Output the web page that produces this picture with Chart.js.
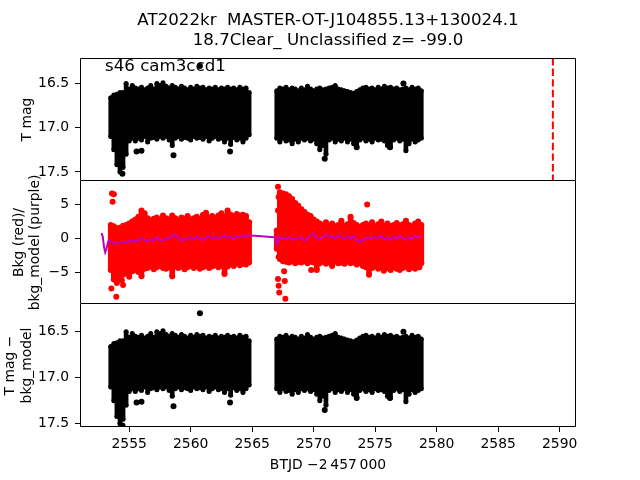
<!DOCTYPE html>
<html><head><meta charset="utf-8">
<script src="https://cdn.jsdelivr.net/npm/chart.js@4/dist/chart.umd.min.js"></script>
<style>
html,body{margin:0;padding:0;background:#fff;}
#wrap{position:relative;width:640px;height:480px;overflow:hidden;background:#fff;}
canvas{position:absolute;left:0;}
</style></head><body>
<div id="wrap">
<canvas id="c1" width="640" height="181" style="top:0px"></canvas>
<canvas id="c2" width="640" height="163" style="top:161px"></canvas>
<canvas id="c3" width="640" height="176" style="top:304px"></canvas>
</div>
<script>
// ---------- text ----------
const titleLines = ['AT2022kr  MASTER-OT-J104855.13+130024.1', '18.7Clear_ Unclassified z= -99.0'];
const panelLabel = 's46 cam3ccd1';
const yTitleTop = 'T mag';
const yTitleMid = ['Bkg (red)/', 'bkg_model (purple)'];
const yTitleBot = ['T mag \u2212', 'bkg_model'];
const xTitle = 'BTJD \u22122\u2009457\u2009000';

// ---------- axis limits / ticks ----------
const xMin = 2551.0, xMax = 2591.33, xStep = 5;
const magTopMin = 16.21, magTopMax = 17.603;
const bkgMin = -9.58, bkgMax = 8.44, bkgStep = 5;
const magBotMin = 16.20, magBotMax = 17.535;
const magStep = 0.5;
const markerT = 2589.45;   // red dashed line

// ---------- time grids (BTJD - 2457000) ----------
const tA = [2553.5,2553.75,2554,2554.25,2554.5,2554.75,2555,2555.25,2555.5,2555.75,2556,2556.25,2556.5,2556.75,2557,2557.25,2557.5,2557.75,2558,2558.25,2558.5,2558.75,2559,2559.25,2559.5,2559.75,2560,2560.25,2560.5,2560.75,2561,2561.25,2561.5,2561.75,2562,2562.25,2562.5,2562.75,2563,2563.25,2563.5,2563.75,2564,2564.25,2564.5,2564.75];
const tB = [2567,2567.25,2567.5,2567.75,2568,2568.25,2568.5,2568.75,2569,2569.25,2569.5,2569.75,2570,2570.25,2570.5,2570.75,2571,2571.25,2571.5,2571.75,2572,2572.25,2572.5,2572.75,2573,2573.25,2573.5,2573.75,2574,2574.25,2574.5,2574.75,2575,2575.25,2575.5,2575.75,2576,2576.25,2576.5,2576.75,2577,2577.25,2577.5,2577.75,2578,2578.25,2578.5,2578.75];

// ---------- T mag envelope (bright edge / faint edge) ----------
const magHiA = [16.66,16.63,16.62,16.60,16.60,16.50,16.56,16.52,16.55,16.56,16.54,16.57,16.55,16.52,16.56,16.50,16.52,16.49,16.53,16.55,16.52,16.54,16.56,16.53,16.55,16.57,16.54,16.56,16.53,16.55,16.54,16.57,16.55,16.56,16.54,16.57,16.55,16.56,16.54,16.56,16.55,16.57,16.54,16.56,16.55,16.60];
const magLoA = [17.10,17.25,17.42,17.50,17.45,17.30,17.15,17.12,17.15,17.12,17.14,17.10,17.16,17.12,17.11,17.13,17.10,17.12,17.10,17.14,17.20,17.12,17.10,17.13,17.11,17.12,17.14,17.10,17.12,17.11,17.13,17.10,17.15,17.12,17.10,17.13,17.12,17.16,17.12,17.19,17.11,17.14,17.12,17.16,17.12,17.08];
const magHiB = [16.58,16.55,16.56,16.54,16.57,16.55,16.56,16.58,16.55,16.57,16.53,16.56,16.58,16.56,16.55,16.57,16.56,16.55,16.54,16.52,16.56,16.57,16.58,16.59,16.60,16.61,16.59,16.57,16.55,16.54,16.56,16.55,16.57,16.54,16.56,16.53,16.55,16.54,16.56,16.55,16.57,16.56,16.55,16.57,16.54,16.56,16.55,16.58];
const magLoB = [17.12,17.16,17.12,17.15,17.14,17.18,17.13,17.16,17.12,17.14,17.12,17.15,17.13,17.18,17.25,17.20,17.30,17.14,17.12,17.16,17.13,17.15,17.12,17.16,17.13,17.18,17.21,17.14,17.12,17.15,17.13,17.16,17.12,17.14,17.13,17.15,17.20,17.22,17.14,17.12,17.15,17.13,17.26,17.18,17.13,17.16,17.14,17.12];
// isolated T mag points
const tMagOut = [2560.75,2577.3,2555.6,2558.6,2570.9,2563.2,2556.0,2573.5,2576.2,2554.45];
const magOut  = [16.30,16.50,17.27,17.31,17.35,17.27,17.26,17.22,17.22,17.52];

// ---------- background envelope (red) ----------
const bkgHiA = [2.0,1.8,1.5,1.6,1.9,2.0,2.2,2.5,2.8,3.2,4.1,3.7,3.0,2.7,2.9,3.1,2.6,3.4,3.0,2.8,3.4,3.0,2.7,3.1,2.9,3.3,2.8,3.0,3.2,2.9,3.5,3.8,3.1,3.3,3.0,3.4,3.7,3.2,4.1,3.5,3.3,3.6,3.4,3.5,3.3,2.4];
const bkgLoA = [-4.6,-6.0,-6.5,-5.8,-5.3,-5.0,-5.6,-4.8,-4.6,-4.9,-5.5,-4.4,-4.3,-4.1,-4.5,-4.2,-4.0,-4.3,-4.4,-4.2,-5.5,-4.1,-4.3,-4.0,-4.5,-4.2,-4.0,-4.3,-4.1,-4.4,-4.2,-4.0,-4.3,-4.1,-3.9,-4.2,-4.0,-5.2,-4.1,-3.8,-4.0,-3.6,-3.9,-3.7,-3.8,-3.5];
const bkgHiB = [1.2,6.8,6.6,6.5,6.2,5.8,5.2,4.8,4.3,3.9,3.5,3.3,2.8,2.5,2.2,2.0,2.4,1.9,2.2,1.8,2.0,2.6,1.9,2.1,3.2,2.3,2.0,1.7,2.0,2.2,1.9,2.4,1.8,2.1,2.5,1.9,2.2,1.8,2.0,2.3,1.9,2.1,2.6,2.0,1.8,2.2,2.5,2.0];
const bkgLoB = [-1.5,-3.0,-3.3,-3.4,-3.5,-3.3,-3.6,-3.4,-3.5,-3.3,-3.6,-3.4,-3.5,-4.6,-3.6,-3.4,-3.7,-3.5,-4.0,-3.4,-3.6,-3.5,-3.7,-3.4,-3.6,-3.5,-3.8,-3.6,-4.0,-4.2,-5.3,-4.3,-4.1,-4.4,-4.2,-4.5,-4.3,-4.6,-4.2,-4.4,-4.6,-4.3,-4.1,-4.5,-4.2,-4.4,-4.1,-3.6];
// isolated background points
const tBkgOut = [2553.6,2553.75,2553.65,2553.55,2553.95,2554.5,2554.4,2567.1,2567.15,2567.1,2567.15,2567.1,2567.15,2567.2,2567.7,2567.65,2567.6,2574.35,2569.8,2575.7,2578.6];
const bkgOut  = [6.6,6.5,5.4,-7.3,-8.5,-6.8,-6.1,7.6,6.1,4.1,-2.7,-5.9,-6.9,-7.9,-8.8,-6.2,-4.8,5.0,-4.6,-4.7,-4.2];

// ---------- background model (purple) ----------
const bkgModelT = [2552.75,2552.85,2552.95,2553.05,2553.15,2553.3,2553.5,2553.75,2554,2554.25,2554.5,2554.75,2555,2555.25,2555.5,2555.75,2556,2556.25,2556.5,2556.75,2557,2557.25,2557.5,2557.75,2558,2558.25,2558.5,2558.75,2559,2559.25,2559.5,2559.75,2560,2560.25,2560.5,2560.75,2561,2561.25,2561.5,2561.75,2562,2562.25,2562.5,2562.75,2563,2563.25,2563.5,2563.75,2564,2564.25,2564.5,2564.7,2566.8,2566.9,2567,2567.1,2567.2,2567.4,2567.6,2567.8,2568,2568.25,2568.5,2568.75,2569,2569.25,2569.5,2569.75,2570,2570.25,2570.5,2570.75,2571,2571.25,2571.5,2571.75,2572,2572.25,2572.5,2572.75,2573,2573.25,2573.5,2573.75,2574,2574.25,2574.5,2574.75,2575,2575.25,2575.5,2575.75,2576,2576.25,2576.5,2576.75,2577,2577.25,2577.5,2577.75,2578,2578.25,2578.5,2578.75];
const bkgModelV = [0.8,0.3,-1.2,-2.0,-1.5,-0.4,-0.3,-0.8,-0.6,-0.7,-0.4,-0.6,-0.3,-0.5,-0.2,-0.4,0.1,-0.2,-0.4,-0.1,-0.3,0.2,-0.2,-0.3,0.1,-0.1,0.4,0.6,0.1,-0.3,0.0,-0.2,0.2,-0.1,0.3,0.0,-0.2,0.2,0.4,0.0,0.3,-0.1,0.2,0.5,0.1,0.3,-0.1,0.4,0.2,0.5,0.3,0.5,0.2,0.1,-0.9,-0.3,0.3,-0.1,0.2,0.0,0.3,-0.2,0.1,-0.1,0.2,-0.3,0.0,0.5,0.7,0.1,-0.2,0.3,0.6,0.2,0.4,0.0,0.5,0.2,-0.1,0.3,0.0,0.4,-0.2,-0.5,-0.3,0.1,0.2,0.0,0.3,0.1,0.4,-0.1,0.2,-0.2,0.3,0.0,0.4,0.1,-0.2,0.2,0.0,0.4,0.2,0.5];

// ---------- styling ----------
const FONT = "'DejaVu Sans', 'Liberation Sans', sans-serif";
const FS = 13.9;
const BLACK = '#000000', RED = '#ff0000', PURPLE = 'rgb(191,0,191)';
Chart.defaults.font.family = FONT;
Chart.defaults.color = '#000';
Chart.defaults.animation = false;

const fmtMag = v => Number(v).toFixed(1);
const fmtInt = v => (v < 0 ? '\u2212' + Math.abs(v) : String(v));

function yAxis(min, max, step, reverse, title, padTop, fmt) {
  return {
    type: 'linear', position: 'left', min, max, reverse, offset: false,
    border: { display: false },
    grid: { display: true, offset: false, drawOnChartArea: false, drawTicks: true, tickLength: 5, color: '#000', lineWidth: 1 },
    ticks: { stepSize: step, includeBounds: false, padding: 6, color: '#000', font: { size: FS }, callback: fmt },
    title: { display: true, text: title, color: '#000', font: { size: FS, lineHeight: 1.2 }, padding: { top: padTop, bottom: 0 } },
    afterFit(s) { s.width = 80; s.paddingTop = 0; s.paddingBottom = 0; s.paddingLeft = 0; s.paddingRight = 0; }
  };
}
function hiddenX() {
  return { type: 'linear', min: xMin, max: xMax, display: false, offset: false, grid: { offset: false } };
}
function framePlugin(drawTop, extra) {
  return {
    id: 'frame',
    afterDraw(chart) {
      const { ctx, chartArea: a } = chart;
      ctx.save();
      ctx.strokeStyle = '#000'; ctx.lineWidth = 1;
      const l = Math.round(a.left) + 0.5, r = Math.round(a.right) - 0.5;
      const t = Math.round(a.top) + 0.5, b = Math.round(a.bottom) - 0.5;
      ctx.beginPath();
      ctx.moveTo(l, drawTop ? t : a.top); ctx.lineTo(l, b);
      ctx.moveTo(l, b); ctx.lineTo(r, b);
      ctx.moveTo(r, b); ctx.lineTo(r, drawTop ? t : a.top);
      if (drawTop) { ctx.moveTo(l, t); ctx.lineTo(r, t); }
      ctx.stroke();
      if (extra) extra(ctx, a);
      ctx.restore();
    }
  };
}
const pts = (ts, vs) => ts.map((t, i) => ({ x: t, y: vs[i] }));
const bars = (ts, hi, lo) => ts.map((t, i) => ({ x: t, y: [hi[i], lo[i]] }));

function magDatasets(withMarker, yLo, yHi) {
  const ds = [
    { type: 'scatter', data: pts(tMagOut, magOut), pointRadius: 3, backgroundColor: BLACK, borderWidth: 0, order: 1 },
    { type: 'scatter', data: [...pts(tA, magHiA), ...pts(tA, magLoA), ...pts(tB, magHiB), ...pts(tB, magLoB)], pointRadius: 2.5, backgroundColor: BLACK, borderWidth: 0, order: 2 },
    { type: 'bar', data: [...bars(tA, magHiA, magLoA), ...bars(tB, magHiB, magLoB)], backgroundColor: BLACK, borderWidth: 0, barThickness: 4, grouped: false, order: 3 }
  ];
  if (withMarker) {
    ds.unshift({ type: 'line', data: [{ x: markerT, y: yLo }, { x: markerT, y: yHi }], borderColor: RED, borderWidth: 2, borderDash: [7.4, 3.2], pointRadius: 0, order: 0 });
  }
  return ds;
}
function common(padTop, padBottom) {
  return {
    responsive: false, events: [],
    layout: { autoPadding: false, padding: { left: 0, right: 64, top: padTop, bottom: padBottom } }
  };
}

// ---------- panel 1: T mag ----------
new Chart(document.getElementById('c1'), {
  type: 'scatter',
  data: { datasets: magDatasets(true, magTopMin, magTopMax) },
  options: Object.assign(common(0, 0), {
    plugins: {
      legend: { display: false }, tooltip: { enabled: false },
      title: { display: true, fullSize: false, text: titleLines, color: '#000', font: { size: 16.67, weight: 'normal', lineHeight: 1.2 }, padding: { top: 11, bottom: 7 } }
    },
    scales: { x: hiddenX(), y: yAxis(magTopMin, magTopMax, magStep, true, yTitleTop, 18.7, fmtMag) }
  }),
  plugins: [framePlugin(true, (ctx) => {
    ctx.font = "16.67px " + FONT; ctx.fillStyle = '#000'; ctx.textBaseline = 'alphabetic'; ctx.textAlign = 'left';
    ctx.fillText(panelLabel, 105, 70.5);
  })]
});

// ---------- panel 2: background (red) and background model (purple) ----------
new Chart(document.getElementById('c2'), {
  type: 'scatter',
  data: { datasets: [
    { type: 'line', data: pts(bkgModelT, bkgModelV), borderColor: PURPLE, borderWidth: 2, pointRadius: 0, tension: 0, order: 0 },
    { type: 'scatter', data: pts(tBkgOut, bkgOut), pointRadius: 3, backgroundColor: RED, borderWidth: 0, order: 1 },
    { type: 'scatter', data: [...pts(tA, bkgHiA), ...pts(tA, bkgLoA), ...pts(tB, bkgHiB), ...pts(tB, bkgLoB)], pointRadius: 3, backgroundColor: RED, borderWidth: 0, order: 2 },
    { type: 'bar', data: [...bars(tA, bkgHiA, bkgLoA), ...bars(tB, bkgHiB, bkgLoB)], backgroundColor: RED, borderWidth: 0, barThickness: 5, grouped: false, order: 3 }
  ] },
  options: Object.assign(common(20, 20), {
    plugins: { legend: { display: false }, tooltip: { enabled: false } },
    scales: { x: hiddenX(), y: yAxis(bkgMin, bkgMax, bkgStep, false, yTitleMid, 10.7, fmtInt) }
  }),
  plugins: [framePlugin(false)]
});

// ---------- panel 3: T mag - bkg_model ----------
new Chart(document.getElementById('c3'), {
  type: 'scatter',
  data: { datasets: magDatasets(false) },
  options: Object.assign(common(0, 0), {
    plugins: { legend: { display: false }, tooltip: { enabled: false } },
    scales: {
      x: {
        type: 'linear', min: xMin, max: xMax, offset: false,
        border: { display: false },
        grid: { display: true, offset: false, drawOnChartArea: false, drawTicks: true, tickLength: 5, color: '#000', lineWidth: 1 },
        ticks: { stepSize: xStep, includeBounds: false, padding: 4, maxRotation: 0, autoSkip: false, color: '#000', font: { size: FS }, callback: v => String(v) },
        title: { display: true, text: xTitle, color: '#000', font: { size: FS, lineHeight: 1.2 }, padding: { top: 0, bottom: 6.7 } },
        afterFit(s) { s.height = 53; s.paddingLeft = 0; s.paddingRight = 0; s.paddingTop = 0; s.paddingBottom = 0; }
      },
      y: yAxis(magBotMin, magBotMax, magStep, true, yTitleBot, 2.2, fmtMag)
    }
  }),
  plugins: [framePlugin(false)]
});
</script>
</body></html>
